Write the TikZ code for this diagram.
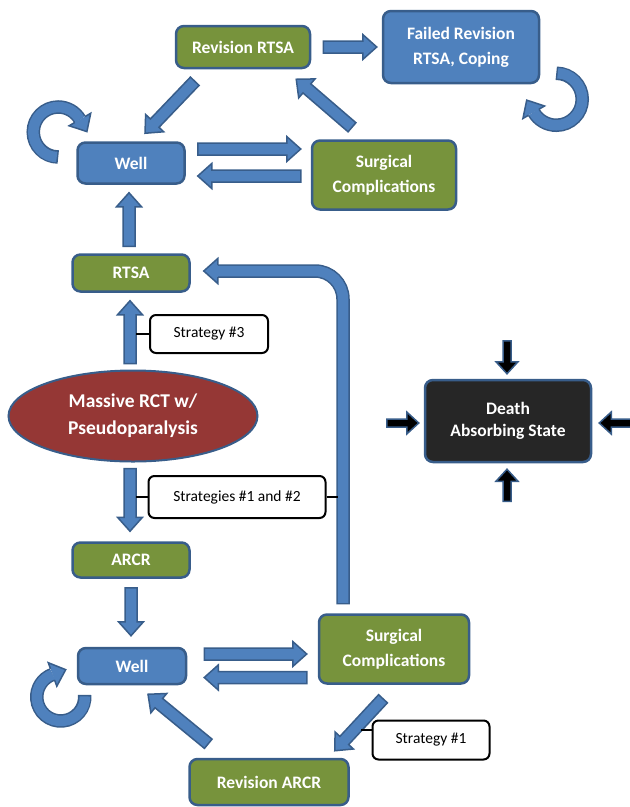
\documentclass[tikz,border=0pt]{standalone}
\usepackage{fontspec}
\setmainfont{Carlito}
\usetikzlibrary{calc,shapes.geometric}

\definecolor{boxblue}{HTML}{4F81BD}
\definecolor{edgeblue}{HTML}{385D8A}
\definecolor{boxgreen}{HTML}{77933C}
\definecolor{boxred}{HTML}{953735}
\definecolor{boxdark}{HTML}{262626}

\tikzset{
  shaft w/.store in=\baw, head w/.store in=\bhw, head l/.store in=\bhl,
  shaft w=6pt, head w=12.5pt, head l=14pt,
  barrow/.style={fill=boxblue, draw=edgeblue, line width=1.5pt, line join=miter},
}

%% block arrow from #2 to #3 (tip)
\newcommand{\blockarrow}[3][]{%
  \begin{scope}[barrow,#1]
    \coordinate (ba-h) at ($(#3)!\bhl!(#2)$);
    \filldraw ($(#2)!\baw!90:(#3)$) -- ($(ba-h)!\baw!90:(#3)$)
      -- ($(ba-h)!\bhw!90:(#3)$) -- (#3) -- ($(ba-h)!\bhw!-90:(#3)$)
      -- ($(ba-h)!\baw!-90:(#3)$) -- ($(#2)!\baw!-90:(#3)$) -- cycle;
  \end{scope}}
%% head only, base at #2, tip at #3
\newcommand{\blockhead}[3][]{%
  \begin{scope}[barrow,#1]
    \filldraw ($(#2)!\baw!90:(#3)$) -- ($(#2)!\bhw!90:(#3)$) -- (#3)
      -- ($(#2)!\bhw!-90:(#3)$) -- ($(#2)!\baw!-90:(#3)$);
  \end{scope}}

\begin{document}
\begin{tikzpicture}[
  x=1pt, y=-1pt,
  stbox/.style={rectangle, rounded corners=8pt, draw=edgeblue, line width=2.5pt,
                text=white, align=center, inner sep=0pt,
                font=\bfseries\fontsize{17.5}{25}\selectfont},
  wellbox/.style={stbox, fill=boxblue},
  opbox/.style={stbox, fill=boxgreen},
  stratbox/.style={rectangle, rounded corners=6pt, draw=black, line width=2pt,
                   fill=white, inner sep=0pt, font=\fontsize{15.5}{18}\selectfont},
  shaftout/.style={draw=edgeblue, line width=13.5pt},
  shaftin/.style={draw=boxblue, line width=10.5pt},
  tick/.style={draw=black, line width=1.2pt},
]
  \useasboundingbox (0,0) rectangle (630,807);

  %% upper branch (RTSA)
  \node[opbox, minimum width=134pt, minimum height=42pt] (revrtsa) at (243,47) {Revision RTSA};
  \node[wellbox, minimum width=156pt, minimum height=72pt] (failed) at (461,47) {Failed Revision\\RTSA, Coping};
  \node[wellbox, minimum width=107pt, minimum height=41pt] (wellA) at (131,163) {Well};
  \node[opbox, minimum width=144pt, minimum height=69pt] (surgA) at (384,175) {Surgical\\Complications};
  \node[opbox, minimum width=117pt, minimum height=37pt] (rtsa) at (131,273) {RTSA};
  \node[stratbox, minimum width=118pt, minimum height=38pt] (strat3) at (209,334) {Strategy \#3};

  %% starting state
  \node[ellipse, fill=boxred, draw=edgeblue, line width=2pt, inner sep=0pt,
        minimum width=249pt, minimum height=91pt, text=white, align=center,
        font=\bfseries\fontsize{19.5}{27}\selectfont] (rct) at (133,416) {Massive RCT w/\\Pseudoparalysis};
  \node[stratbox, minimum width=177pt, minimum height=42pt] (strat12) at (237,497) {Strategies \#1 and \#2};

  %% lower branch (ARCR)
  \node[opbox, minimum width=117pt, minimum height=35pt] (arcr) at (131,560) {ARCR};
  \node[wellbox, minimum width=108pt, minimum height=36pt] (wellB) at (132,666) {Well};
  \node[opbox, minimum width=150pt, minimum height=69pt] (surgB) at (394,649) {Surgical\\Complications};
  \node[opbox, minimum width=159pt, minimum height=46pt] (revarcr) at (269,782) {Revision ARCR};
  \node[stratbox, minimum width=117pt, minimum height=39pt] (strat1) at (431,740) {Strategy \#1};

  %% death
  \node[stbox, fill=boxdark, minimum width=166pt, minimum height=82pt,
        font=\bfseries\fontsize{17.5}{21.5}\selectfont] (death) at (508,421) {Death\\Absorbing State};

  %% arrow end points
  \coordinate (a1s) at ($(revrtsa.east)+(12,0)$);
  \coordinate (a1t) at ($(failed.west)+(-5,0)$);
  \coordinate (a2s) at ($(revrtsa.south west)+(20,12)$);
  \coordinate (a2t) at ($(wellA.north)+(14,-8)$);
  \coordinate (a3s) at ($(surgA.north)+(-32,-12)$);
  \coordinate (a3t) at ($(revrtsa.south east)+(-15,10)$);
  \coordinate (a4s) at ($(wellA.east)+(12,-14)$);
  \coordinate (a4t) at ($(surgA.west)+(-10,-26)$);
  \coordinate (a5s) at ($(surgA.west)+(-10,1)$);
  \coordinate (a5t) at ($(wellA.east)+(12,13)$);
  \coordinate (a6s) at ($(rtsa.north)+(-2,-7)$);
  \coordinate (a6t) at ($(wellA.south)+(-2,8)$);
  \coordinate (a7s) at ($(rct.north)+(-3,-6)$);
  \coordinate (a7t) at ($(rtsa.south)+(-1,8)$);
  \coordinate (a8s) at ($(rct.south)+(-3,6)$);
  \coordinate (a8t) at ($(arcr.north)+(-1,-10)$);
  \coordinate (a9s) at ($(arcr.south)+(0,9)$);
  \coordinate (a9t) at ($(wellB.north)+(-1,-11)$);
  \coordinate (b1s) at ($(wellB.east)+(17,-12)$);
  \coordinate (b1t) at ($(surgB.west)+(-11,5)$);
  \coordinate (b2s) at ($(surgB.west)+(-11,28.5)$);
  \coordinate (b2t) at ($(wellB.east)+(17,11.5)$);
  \coordinate (b3s) at ($(surgB.south)+(-11,14)$);
  \coordinate (b3t) at ($(revarcr.north east)+(-15,-7)$);
  \coordinate (b4s) at ($(revarcr.north west)+(20,-14)$);
  \coordinate (b4t) at ($(wellB.south)+(16,9)$);

  \blockarrow{a1s}{a1t}
  \blockarrow{a2s}{a2t}
  \blockarrow{a3s}{a3t}
  \blockarrow{a4s}{a4t}
  \blockarrow{a5s}{a5t}
  \blockarrow{a6s}{a6t}
  \blockarrow{a7s}{a7t}
  \blockarrow{a8s}{a8t}
  \blockarrow{a9s}{a9t}
  \blockarrow{b1s}{b1t}
  \blockarrow{b2s}{b2t}
  \blockarrow{b3s}{b3t}
  \blockarrow{b4s}{b4t}

  %% bent arrow: lower complications back to RTSA
  \coordinate (bs) at ($(surgB.north)+(-51,-9)$);
  \coordinate (bt) at ($(rtsa.east)+(13,-2)$);
  \coordinate (bh) at ($(bt)+(14,0)$);
  \draw[shaftout, rounded corners=28pt] (bs) |- (bh);
  \draw[shaftin, rounded corners=28pt, shorten <=1.5pt] (bs) |- (bh);
  \blockhead{bh}{bt}

  %% self loops
  \coordinate (lpA) at ($(wellA.west)+(-18,-31)$);
  \coordinate (lpAh) at ($(lpA)+(330:25)$);
  \coordinate (lpAt) at ($(lpAh)+(60:14)$);
  \draw[shaftout] ($(lpA)+(90:25)$) arc[start angle=90, end angle=330, radius=25];
  \draw[shaftin, shorten <=1.5pt] ($(lpA)+(90:25)$) arc[start angle=90, end angle=330, radius=25];
  \blockhead{lpAh}{lpAt}

  \coordinate (lpF) at ($(failed.south east)+(16,15)$);
  \coordinate (lpFh) at ($(lpF)+(150:26)$);
  \coordinate (lpFt) at ($(lpFh)+(240:14)$);
  \draw[shaftout] ($(lpF)+(270:26)$) arc[start angle=270, end angle=510, radius=26];
  \draw[shaftin, shorten <=1.5pt] ($(lpF)+(270:26)$) arc[start angle=270, end angle=510, radius=26];
  \blockhead{lpFh}{lpFt}

  \coordinate (lpB) at ($(wellB.west)+(-16,31)$);
  \coordinate (lpBh) at ($(lpB)+(250:24)$);
  \coordinate (lpBt) at ($(lpBh)+(340:14)$);
  \draw[shaftout] ($(lpB)+(-5:24)$) arc[start angle=-5, end angle=250, radius=24];
  \draw[shaftin, shorten <=1.5pt] ($(lpB)+(-5:24)$) arc[start angle=-5, end angle=250, radius=24];
  \blockhead{lpBh}{lpBt}

  %% arrows into death
  \coordinate (d1s) at ($(death.north)+(-1,-38)$);
  \coordinate (d1t) at ($(death.north)+(-1,-5)$);
  \coordinate (d2s) at ($(death.south)+(-1,38)$);
  \coordinate (d2t) at ($(death.south)+(-1,6)$);
  \coordinate (d3s) at ($(death.west)+(-37,2)$);
  \coordinate (d3t) at ($(death.west)+(-5,2)$);
  \coordinate (d4s) at ($(death.east)+(39,2)$);
  \coordinate (d4t) at ($(death.east)+(7,2)$);
  \blockarrow[fill=black, shaft w=4pt, head w=11pt, head l=12pt]{d1s}{d1t}
  \blockarrow[fill=black, shaft w=4pt, head w=11pt, head l=12pt]{d2s}{d2t}
  \blockarrow[fill=black, shaft w=4pt, head w=11pt, head l=12pt]{d3s}{d3t}
  \blockarrow[fill=black, shaft w=4pt, head w=11pt, head l=12pt]{d4s}{d4t}

  %% strategy ticks
  \draw[tick] (strat3.west) -- ++(-13,0);
  \draw[tick] (strat12.west) -- ++(-12,0);
  \draw[tick] (strat12.east) -- ++(11,0);
  \draw[tick] ($(strat1.west)+(0,-10)$) -- ++(-11,0);
\end{tikzpicture}
\end{document}
